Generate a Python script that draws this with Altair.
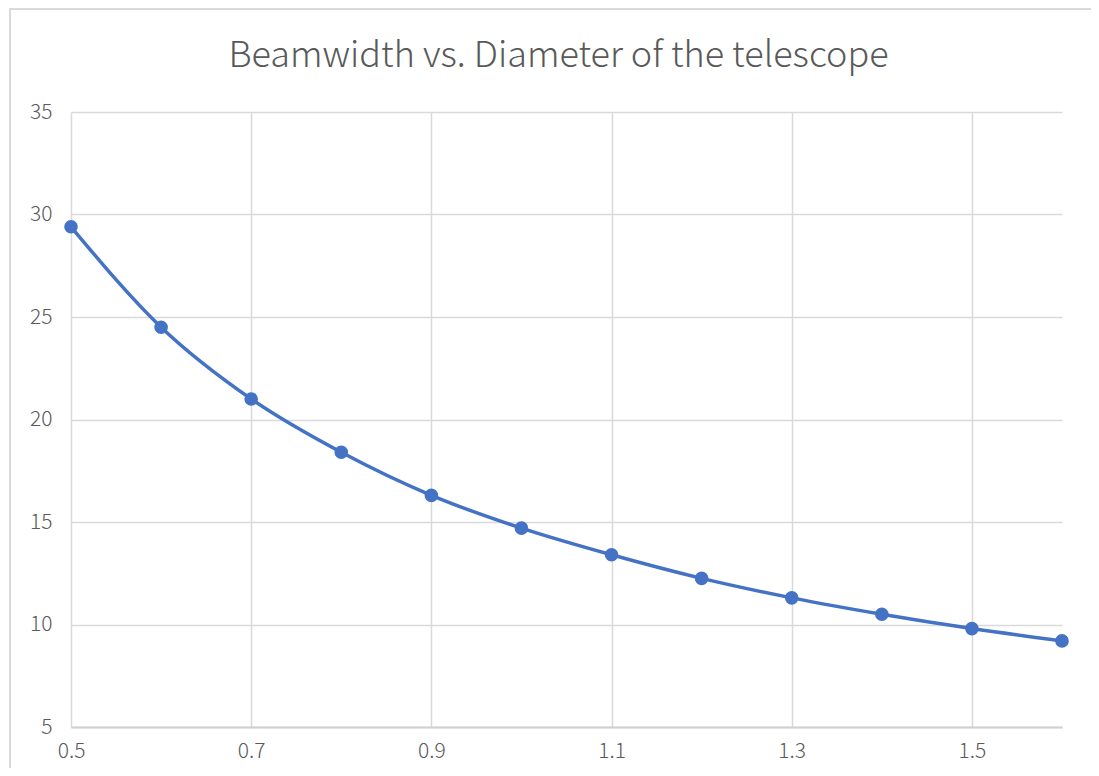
import altair as alt
import pandas as pd

diameter = [0.5, 0.6, 0.7, 0.8, 0.9, 1.0, 1.1, 1.2, 1.3, 1.4, 1.5, 1.6]
beamwidth = [29.4, 24.5, 21.0, 18.4, 16.3, 14.7, 13.4, 12.25, 11.3, 10.5, 9.8, 9.2]
x_ticks = [0.5, 0.7, 0.9, 1.1, 1.3, 1.5]
y_ticks = [5, 10, 15, 20, 25, 30, 35]
title_text = "Beamwidth vs. Diameter of the telescope"

FONT = "Noto Sans CJK SC"
GRAY = "#595959"
BLUE = "#4472C4"

df = pd.DataFrame({"d": diameter, "b": beamwidth})

x = alt.X("d:Q", scale=alt.Scale(domain=[0.5, 1.6], nice=False, zero=False),
          axis=alt.Axis(values=x_ticks, title=None, format=".1f", grid=True,
                        gridColor="#D9D9D9", gridWidth=1.5,
                        domain=True, domainColor="#D0D0D0", domainWidth=2,
                        ticks=False, labelPadding=13, labelFontSize=21,
                        labelFlush=False, labelOverlap=False,
                        labelColor=GRAY, labelFont=FONT, labelFontWeight=300))
y = alt.Y("b:Q", scale=alt.Scale(domain=[5, 35], nice=False, zero=False),
          axis=alt.Axis(values=y_ticks, title=None, grid=True,
                        gridColor="#D9D9D9", gridWidth=1.5, domain=False,
                        ticks=False, labelPadding=19, labelFontSize=21,
                        labelFlush=False, labelOverlap=False,
                        labelColor=GRAY, labelFont=FONT, labelFontWeight=300))

base = alt.Chart(df)
line = base.mark_line(color=BLUE, strokeWidth=3.5, interpolate="monotone").encode(x=x, y=y)
pts = base.mark_circle(color=BLUE, size=185, opacity=1).encode(x="d:Q", y="b:Q")

one = alt.Chart(pd.DataFrame({"t": [title_text]}))
title = one.mark_text(font=FONT, fontSize=36, fontWeight=300, color=GRAY,
                      align="center", baseline="alphabetic").encode(
    x=alt.value(487.5), y=alt.value(-45), text="t:N")
border = one.mark_rect(fill=None, stroke="#D9D9D9", strokeWidth=2, clip=False).encode(
    x=alt.value(-61), x2=alt.value(1100), y=alt.value(-103), y2=alt.value(700))

chart = alt.layer(border, line, pts, title).properties(
    width=991, height=615,
    autosize=alt.AutoSizeParams(type="none"),
    padding={"left": 63, "top": 104, "right": 29, "bottom": 41},
).configure_view(stroke=None)

chart.save("out.html", embed_options={"renderer": "svg", "actions": False})
